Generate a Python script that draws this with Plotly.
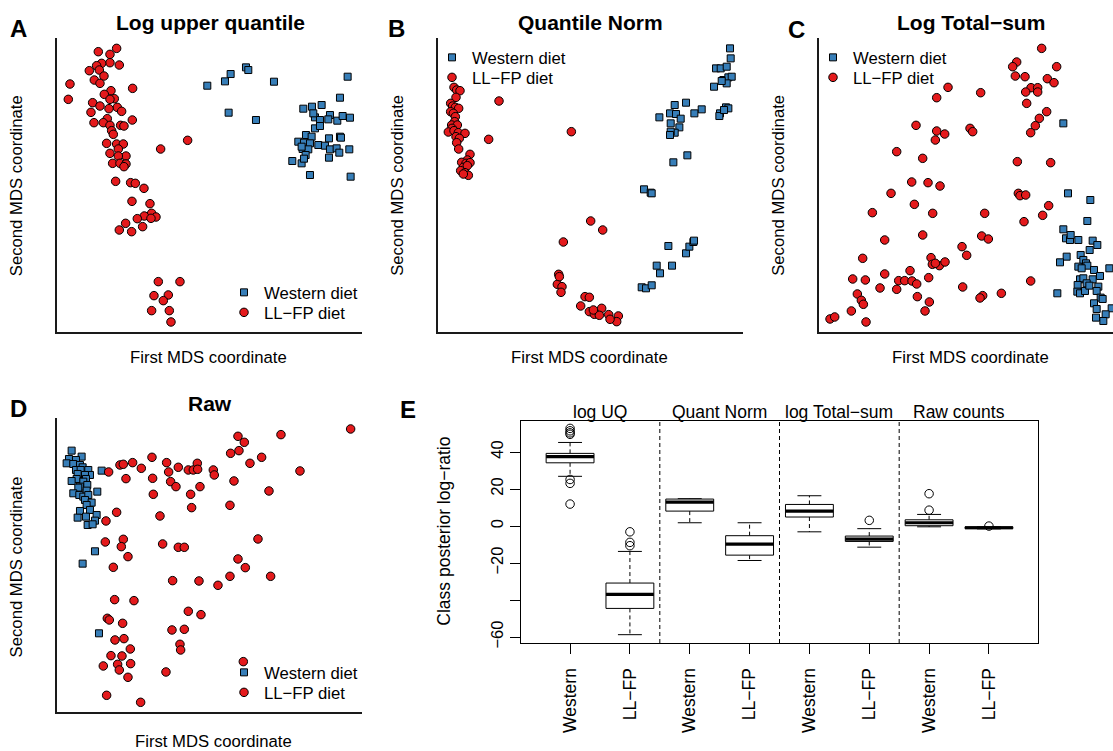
import plotly.graph_objects as go

W, H = 1113, 751
RED = "#E41A1C"
BLUE = "#377EB8"
FONT = "Liberation Sans, Arial, sans-serif"

# ---------------- MDS panels: (first coord, second coord) in arbitrary units ----------------
A_WEST = [(622,-257),(675,-244),(692,-222),(738,-202),(745,-210),(822,-245),(1043,-230),(1020,-293),
          (686,-338),(768,-360),(910,-326),(936,-320),(965,-315),(945,-352),(960,-360),(990,-345),
          (985,-358),(1012,-362),(1028,-348),(1050,-353),(945,-385),(960,-378),(918,-405),(935,-410),
          (895,-425),(912,-428),(930,-430),(955,-435),(975,-437),(987,-415),(1020,-410),(1023,-413),
          (908,-447),(925,-448),(990,-448),(1010,-445),(1018,-458),(1048,-448),(987,-473),(917,-465),
          (905,-490),(912,-476),(877,-483),(930,-525),(1052,-530),(940,-340),(905,-440)]
A_LLFP = [(350,-145),(295,-155),(330,-163),(330,-188),(305,-190),(290,-197),(358,-195),(268,-212),
          (298,-210),(312,-228),(283,-240),(210,-252),(300,-250),(398,-265),(333,-272),(313,-283),
          (343,-296),(330,-298),(205,-298),(278,-308),(300,-318),(352,-322),(327,-326),(365,-334),
          (273,-337),(322,-356),(397,-360),(282,-368),(310,-368),(330,-376),(362,-376),(372,-378),
          (335,-392),(340,-403),(320,-430),(350,-432),(370,-432),(355,-447),(330,-460),(378,-468),
          (355,-468),(338,-490),(360,-490),(378,-492),(372,-500),(482,-447),(563,-421),(347,-544),
          (392,-548),(406,-550),(432,-565),(396,-604),(450,-611),(455,-640),(433,-648),(412,-656),
          (468,-651),(453,-655),(377,-670),(358,-690),(395,-695),(428,-680),(475,-845),(540,-845),
          (462,-887),(505,-885),(490,-902),(455,-932),(508,-932),(513,-966)]

B_WEST = [(1050,-145),(1052,-175),(1008,-205),(1022,-205),(1040,-200),(1030,-240),(1045,-232),(1055,-230),
          (1040,-250),(1002,-260),(1025,-243),(1038,-322),(1045,-325),(1020,-340),(1018,-348),(1032,-330),
          (918,-308),(884,-315),(965,-328),(943,-340),(838,-352),(870,-340),(888,-342),(902,-356),
          (872,-370),(898,-382),(884,-398),(872,-395),(870,-405),(922,-466),(880,-487),(792,-568),
          (812,-578),(815,-580),(865,-738),(918,-760),(928,-740),(940,-726),(942,-722),(830,-797),
          (876,-797),(840,-820),(785,-862),(798,-865),(815,-856)]
B_LLFP = [(222,-262),(230,-270),(240,-272),(228,-292),(212,-310),(218,-318),(226,-322),(236,-325),
          (212,-335),(220,-340),(226,-350),(224,-365),(215,-375),(232,-375),(216,-385),(205,-396),
          (222,-392),(235,-398),(255,-400),(228,-410),(238,-415),(230,-428),(236,-447),(357,-303),
          (326,-418),(270,-463),(262,-480),(245,-487),(258,-490),(270,-488),(250,-502),(262,-497),
          (242,-512),(255,-518),(265,-526),(250,-522),(574,-395),(632,-663),(668,-690),(550,-726),
          (536,-823),(532,-853),(546,-860),(543,-877),(538,-830),(615,-890),(628,-892),(602,-918),
          (628,-935),(643,-943),(665,-925),(658,-946),(686,-944),(715,-948),(710,-965),(690,-958),
          (640,-930)]

C_WEST = [(970,-370),(984,-580),(1051,-600),(1042,-663),(970,-688),(978,-715),(990,-720),(992,-705),
          (1015,-720),(1058,-722),(1072,-735),(1049,-750),(980,-770),(960,-787),(1022,-765),(1030,-780),
          (1038,-790),(1015,-800),(1042,-797),(1025,-805),(1062,-810),(1108,-805),(1080,-828),(1020,-838),
          (1030,-835),(1058,-838),(1013,-855),(1040,-850),(1012,-875),(1020,-880),(1035,-873),(1048,-857),
          (1075,-860),(1070,-873),(1082,-893),(1088,-897),(952,-880),(1062,-910),(1070,-927),(1115,-925),
          (1097,-943),(1068,-953),(1090,-963)]
C_LLFP = [(905,-145),(830,-186),(818,-200),(950,-200),(826,-228),(855,-230),(922,-236),(942,-248),
          (624,-262),(873,-263),(893,-263),(857,-276),(893,-276),(590,-293),(722,-278),(860,-310),
          (920,-335),(898,-355),(886,-377),(872,-398),(528,-376),(590,-393),(614,-402),(586,-420),
          (690,-385),(698,-395),(470,-455),(548,-475),(832,-485),(932,-488),(515,-546),(564,-548),
          (600,-558),(453,-580),(835,-580),(840,-587),(857,-585),(523,-613),(397,-638),(578,-640),
          (734,-640),(926,-617),(908,-646),(852,-665),(434,-720),(548,-705),(725,-708),(745,-717),
          (666,-740),(680,-766),(368,-775),(573,-773),(577,-793),(598,-797),(615,-786),(586,-790),
          (434,-822),(510,-812),(338,-837),(376,-840),(476,-842),(494,-842),(516,-843),(530,-852),
          (566,-833),(872,-843),(420,-864),(470,-868),(668,-861),(352,-882),(532,-890),(728,-887),
          (720,-894),(784,-880),(364,-901),(370,-913),(568,-906),(334,-933),(555,-933),(270,-957),
          (284,-951),(378,-966)]

D_WEST = [(215,-212),(245,-230),(207,-237),(228,-240),(200,-250),(220,-252),(240,-255),(248,-262),
          (228,-270),(242,-270),(265,-270),(270,-285),(233,-282),(255,-285),(230,-297),(258,-297),
          (215,-303),(250,-305),(240,-320),(262,-315),(235,-323),(220,-340),(260,-332),(292,-335),
          (238,-345),(250,-350),(265,-345),(255,-360),(275,-368),(260,-375),(240,-393),(270,-390),
          (290,-405),(233,-413),(258,-410),(285,-422),(263,-435),(278,-433),(305,-272),(285,-514),
          (248,-551),(297,-760)]
D_LLFP = [(1052,-147),(714,-169),(843,-164),(733,-187),(717,-212),(692,-220),(785,-232),(750,-250),
          (900,-273),(360,-255),(370,-253),(398,-248),(456,-232),(500,-248),(424,-265),(535,-262),
          (506,-276),(565,-270),(580,-270),(592,-250),(593,-268),(640,-270),(643,-285),(326,-276),
          (378,-296),(458,-295),(512,-305),(528,-320),(600,-320),(702,-303),(807,-333),(460,-343),
          (572,-343),(575,-383),(690,-376),(350,-397),(480,-408),(318,-423),(316,-486),(370,-478),
          (364,-500),(384,-530),(340,-562),(488,-492),(535,-502),(553,-502),(774,-477),(714,-537),
          (736,-563),(690,-589),(812,-589),(518,-602),(597,-603),(654,-616),(344,-659),(402,-662),
          (565,-694),(603,-704),(322,-715),(328,-720),(368,-730),(516,-750),(553,-748),(345,-780),
          (372,-776),(540,-793),(542,-810),(391,-807),(333,-827),(366,-828),(310,-858),(353,-853),
          (392,-851),(358,-870),(498,-876),(384,-892),(730,-845),(320,-946),(422,-967)]

# ---------------- Panel E: box statistics ----------------
GROUPS = ["log UQ", "Quant Norm", "log Total\u2212sum", "Raw counts"]
CLASSES = ["Western", "LL\u2212FP"]
Q1 = [34.2, -44.5, 8.1, -15.7, 4.9, -8.3, 0.2, -1.4]
MED = [37.5, -36.9, 13.0, -9.7, 8.1, -7.0, 1.8, -0.9]
Q3 = [39.3, -30.8, 14.6, -5.2, 11.7, -5.4, 3.4, -0.4]
WLO = [26.9, -58.7, 1.8, -18.6, -3.1, -11.4, -0.4, -1.5]
WHI = [45.2, -13.7, 14.8, 1.8, 16.4, -1.4, 6.3, -0.3]
OUTLIERS = [[52.8, 51.5, 50.4, 49.6, 25.2, 23.1, 11.9], [-3.1, -8.8, -10.6], [], [], [], [3.1],
            [17.5, 8.6], [0.0]]
Y_TICKS = [40, 20, 0, -20, -40, -60]
Y_TICKTEXT = ["40", "20", "0", "\u221220", "", "\u221260"]


def px(x):
    return x / W


def py(y):
    return 1 - y / H


fig = go.Figure()

panels = [
    dict(letter="A", title="Log upper quantile", west=A_WEST, llfp=A_LLFP, xr=[172, 1087], yr=[-997, -113],
         dx=(57.3, 362.3), dy=(37.7, 332.3), leg=(224, 293, 313), letter_pos=(18, 28), title_pos=(210, 22),
         xt_pos=(208, 358), yt_pos=(16.7, 185.5)),
    dict(letter="B", title="Quantile Norm", west=B_WEST, llfp=B_LLFP, xr=[174, 1088], yr=[-997, -113],
         dx=(438.0, 742.7), dy=(37.7, 332.3), leg=(432, 58, 78), letter_pos=(396, 28), title_pos=(590, 22),
         xt_pos=(589, 358), yt_pos=(397.3, 185.5)),
    dict(letter="C", title="Log Total\u2212sum", west=C_WEST, llfp=C_LLFP, xr=[236, 1119], yr=[-997, -113],
         dx=(818.7, 1113), dy=(37.7, 332.3), leg=(813, 58, 78), letter_pos=(796.5, 29), title_pos=(971, 22),
         xt_pos=(970, 358), yt_pos=(778.3, 185.5)),
    dict(letter="D", title="Raw", west=D_WEST, llfp=D_LLFP, xr=[172, 1087], yr=[-997, -115],
         dx=(57.3, 362.3), dy=(418.3, 712.3), leg=(224, 673, 693), letter_pos=(18, 408), title_pos=(210, 403),
         xt_pos=(213, 741), yt_pos=(16.7, 566.7)),
]

LEG_OFFSET = 18  # distance from legend box top to item centre (px)

annotations = []
layout_axes = {}
leg_count = 0
for i, p in enumerate(panels, start=1):
    xa = "x" if i == 1 else f"x{i}"
    ya = "y" if i == 1 else f"y{i}"
    series = [("Western diet", p["west"], dict(symbol="square", size=7, color=BLUE), p["leg"][1]),
              ("LL\u2212FP diet", p["llfp"], dict(symbol="circle", size=8.5, color=RED), p["leg"][2])]
    for name, pts, mk, ly in series:
        leg_count += 1
        leg = "legend" if leg_count == 1 else f"legend{leg_count}"
        fig.add_trace(go.Scatter(
            x=[q[0] for q in pts], y=[q[1] for q in pts], mode="markers", name=name,
            xaxis=xa, yaxis=ya, legend=leg,
            marker=dict(line=dict(color="black", width=1), **mk)))
        layout_axes[leg] = dict(x=px(p["leg"][0]), y=py(ly - LEG_OFFSET), xanchor="left", yanchor="top",
                                bgcolor="rgba(0,0,0,0)", borderwidth=0,
                                font=dict(family=FONT, size=16.7, color="black"))
    axname = "xaxis" if i == 1 else f"xaxis{i}"
    ayname = "yaxis" if i == 1 else f"yaxis{i}"
    common = dict(showline=True, linecolor="#1a1a1a", linewidth=2, showgrid=False, zeroline=False,
                  showticklabels=False, ticks="")
    layout_axes[axname] = dict(domain=[px(p["dx"][0]), min(1, px(p["dx"][1]))], range=p["xr"],
                               anchor=ya, **common)
    layout_axes[ayname] = dict(domain=[py(p["dy"][1]), py(p["dy"][0])], range=p["yr"],
                               anchor=xa, **common)
    annotations.append(dict(text=f"<b>{p['letter']}</b>", x=px(p["letter_pos"][0]), y=py(p["letter_pos"][1]),
                            xref="paper", yref="paper", showarrow=False, xanchor="center", yanchor="middle",
                            font=dict(family=FONT, size=24, color="black")))
    annotations.append(dict(text=f"<b>{p['title']}</b>", x=px(p["title_pos"][0]), y=py(p["title_pos"][1]),
                            xref="paper", yref="paper", showarrow=False, xanchor="center", yanchor="middle",
                            font=dict(family=FONT, size=21, color="black")))
    annotations.append(dict(text="First MDS coordinate", x=px(p["xt_pos"][0]), y=py(p["xt_pos"][1]),
                            xref="paper", yref="paper", showarrow=False, xanchor="center", yanchor="middle",
                            font=dict(family=FONT, size=16.7, color="black")))
    annotations.append(dict(text="Second MDS coordinate", x=px(p["yt_pos"][0]), y=py(p["yt_pos"][1]),
                            xref="paper", yref="paper", showarrow=False, xanchor="center", yanchor="middle",
                            textangle=-90, font=dict(family=FONT, size=16.7, color="black")))

# ---------------- Panel E ----------------
n = len(Q1)
pos = list(range(1, n + 1))
half_box = 0.4
half_cap = 0.2
bx, by, mx, my, wx, wy, cx, cy, ox, oy = [], [], [], [], [], [], [], [], [], []
for k in range(n):
    p0 = pos[k]
    bx += [p0 - half_box, p0 + half_box, p0 + half_box, p0 - half_box, p0 - half_box, None]
    by += [Q1[k], Q1[k], Q3[k], Q3[k], Q1[k], None]
    mx += [p0 - half_box, p0 + half_box, None]
    my += [MED[k], MED[k], None]
    wx += [p0, p0, None, p0, p0, None]
    wy += [Q3[k], WHI[k], None, Q1[k], WLO[k], None]
    cx += [p0 - half_cap, p0 + half_cap, None, p0 - half_cap, p0 + half_cap, None]
    cy += [WHI[k], WHI[k], None, WLO[k], WLO[k], None]
    for v in OUTLIERS[k]:
        ox.append(p0)
        oy.append(v)

e_common = dict(xaxis="x5", yaxis="y5", showlegend=False, hoverinfo="skip")
fig.add_trace(go.Scatter(x=wx, y=wy, mode="lines", line=dict(color="black", width=1, dash="4px,3px"), **e_common))
fig.add_trace(go.Scatter(x=cx, y=cy, mode="lines", line=dict(color="black", width=1), **e_common))
fig.add_trace(go.Scatter(x=bx, y=by, mode="lines", line=dict(color="black", width=1), fill="toself",
                         fillcolor="white", **e_common))
fig.add_trace(go.Scatter(x=mx, y=my, mode="lines", line=dict(color="black", width=3.2), **e_common))
fig.add_trace(go.Scatter(x=ox, y=oy, mode="markers",
                         marker=dict(symbol="circle-open", size=8.5, color="black", line=dict(width=1)),
                         **e_common))

tick_text = [CLASSES[k % 2] for k in range(n)]
layout_axes["xaxis5"] = dict(domain=[px(521), px(1038)], range=[0.18, n + 0.82], anchor="y5",
                             tickvals=pos, ticktext=tick_text, tickangle=-90, ticks="outside", ticklen=10,
                             ticklabelstandoff=7,
                             tickcolor="black", showline=True, mirror=True, linecolor="black", linewidth=1.2,
                             showgrid=False, zeroline=False, automargin=False,
                             tickfont=dict(family=FONT, size=17.5, color="black"))
layout_axes["yaxis5"] = dict(domain=[py(643), py(421)], range=[-63.2, 56.8], anchor="x5",
                             tickvals=Y_TICKS, ticktext=Y_TICKTEXT, tickangle=-90, ticks="outside", ticklen=10,
                             tickcolor="black", showline=True, mirror=True, linecolor="black", linewidth=1.2,
                             showgrid=False, zeroline=False, automargin=False,
                             tickfont=dict(family=FONT, size=16.5, color="black"))

shapes = []
n_cls = len(CLASSES)
for g in range(1, len(GROUPS)):
    xb = g * n_cls + 0.5
    shapes.append(dict(type="line", xref="x5", yref="y5 domain", x0=xb, x1=xb, y0=0, y1=1,
                       line=dict(color="black", width=1, dash="4px,3px")))
for g, name in enumerate(GROUPS):
    annotations.append(dict(text=name, x=g * n_cls + (n_cls + 1) / 2, y=py(412), xref="x5", yref="paper",
                            showarrow=False, xanchor="center", yanchor="middle",
                            font=dict(family=FONT, size=17.5, color="black")))
annotations.append(dict(text="<b>E</b>", x=px(408), y=py(409.5), xref="paper", yref="paper", showarrow=False,
                        xanchor="center", yanchor="middle", font=dict(family=FONT, size=24, color="black")))
annotations.append(dict(text="Class posterior log\u2212ratio", x=px(444), y=py(531.7), xref="paper", yref="paper",
                        showarrow=False, xanchor="center", yanchor="middle", textangle=-90,
                        font=dict(family=FONT, size=17.5, color="black")))

fig.update_layout(
    width=W, height=H, autosize=False,
    margin=dict(l=0, r=0, t=0, b=0, autoexpand=False),
    paper_bgcolor="white", plot_bgcolor="white",
    font=dict(family=FONT, color="black"),
    annotations=annotations, shapes=shapes,
    **layout_axes,
)

fig.write_html("out.html")
